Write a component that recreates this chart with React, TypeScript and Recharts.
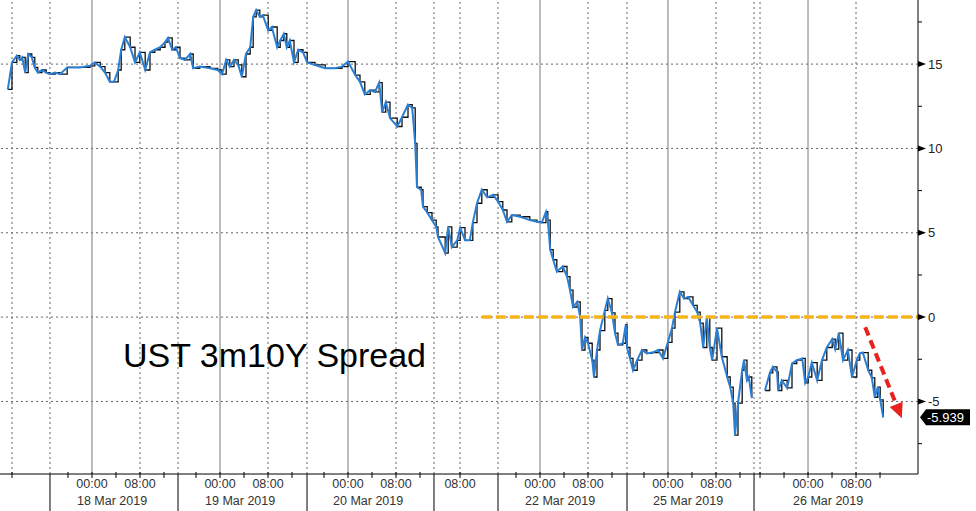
import { ComposedChart, Line, XAxis, YAxis, ReferenceLine } from 'recharts';

// trading-time axis, in hours from the left edge of the chart
const hours = [
  1.3, 2.0, 2.8, 3.3, 3.7, 4.2, 4.7, 5.3, 5.8, 6.3, 7.0, 7.7, 8.3, 9.2, 10.0, 11.2, 13.3, 15.0, 15.8, 16.7,
  17.5, 18.3, 19.0, 19.7, 20.2, 20.8, 21.7, 22.5, 23.3, 24.2, 25.0, 25.8, 26.7, 27.5, 28.0, 28.7, 29.3, 30.0,
  30.8, 31.7, 32.2, 33.3, 35.0, 36.3, 37.0, 37.7, 38.3, 39.0, 39.7, 40.3, 41.0, 41.7, 42.2, 42.7, 43.3, 43.8,
  44.7, 45.3, 46.2, 46.7, 47.3, 47.8, 48.3, 49.0, 49.7, 50.5, 51.2, 52.5, 54.2, 55.8, 57.0, 58.0, 59.2, 60.0,
  60.8, 61.7, 62.5, 63.2, 63.7, 64.3, 65.0, 66.2, 67.0, 68.0, 68.7, 69.2, 69.5, 70.2, 70.5, 71.2, 72.0, 72.7,
  73.0, 74.2, 74.7, 75.3, 76.2, 76.7, 77.5, 78.3, 78.8, 79.5, 80.3, 81.2, 82.2, 83.0, 83.8, 84.5, 85.3, 86.7,
  88.3, 89.5, 90.3, 91.0, 91.3, 91.7, 92.2, 92.8, 93.8, 94.5, 95.0, 95.5, 96.2, 96.7, 97.0, 97.5, 98.0, 98.7,
  99.0, 99.5, 100.0, 100.8, 101.3, 102.0, 102.5, 103.0, 103.8, 104.3, 104.5, 105.0, 105.5, 106.2, 107.0, 107.8,
  108.7, 109.7, 110.5, 111.3, 112.0, 112.5, 113.3, 114.0, 114.7, 115.5, 116.2, 116.7, 117.2, 117.8, 118.3, 118.7,
  119.5, 120.3, 121.2, 121.7, 122.2, 122.5, 123.0, 123.7, 124.0, 124.5, 124.8, 125.3, 126.0, 127.5, 128.3, 128.8,
  129.5, 129.7, 130.3, 131.2, 132.0, 132.8, 133.7, 134.2, 134.7, 135.3, 136.2, 137.0, 137.8, 138.7, 139.2, 139.8,
  140.5, 141.3, 142.0, 142.8, 143.3, 143.8, 144.7, 145.3, 145.8, 146.3, 146.7, 147.2,
];

const spread: (number | null)[] = [
  13.5, 15.1, 15.5, 15.25, 15.4, 14.5, 15.6, 15.4, 14.8, 14.5, 14.65, 14.5, 14.4, 14.5, 14.4, 14.8, 14.8, 14.9, 15.1, 14.85,
  14.5, 13.95, 13.95, 14.65, 15.85, 16.6, 16.0, 15.1, 15.7, 14.65, 15.7, 15.85, 16.0, 16.3, 16.55, 15.85, 16.0, 15.35,
  15.25, 15.6, 14.75, 14.85, 14.75, 14.65, 14.4, 15.25, 14.85, 15.25, 14.95, 14.25, 15.6, 16.0, 17.8, 18.2, 17.8, 17.9,
  17.0, 17.2, 16.0, 16.4, 16.8, 16.0, 16.4, 15.1, 15.85, 15.7, 15.1, 14.95, 14.75, 14.75, 14.85, 15.15, 14.35, 13.95,
  13.2, 13.45, 13.35, 13.9, 12.15, 12.75, 11.8, 11.3, 11.85, 12.6, 12.4, 10.3, 7.7, 7.55, 6.55, 6.2, 5.75, 5.35,
  4.75, 3.8, 5.35, 4.15, 4.55, 5.3, 4.55, 4.55, 5.6, 6.75, 7.55, 7.1, 7.25, 6.85, 6.35, 5.65, 6.05, 5.95,
  5.75, 5.65, 5.6, 6.25, 5.75, 4.0, 3.4, 2.7, 3.0, 2.4, 1.6, 0.6, 0.9, 0, -1.95, -1.2, -1.55, -2.55,
  -3.55, -1.95, -0.8, 0.4, 1.1, 0.25, -0.95, -1.65, -1.55, -0.45, -1.8, -2.45, -3.15, -2.55, -1.95, -2.15,
  -2.1, -1.95, -2.45, -1.5, -0.65, 0.3, 1.5, 1.1, 1.2, 0.7, 0.3, -0.35, -1.8, 0, -1.8, -2.55,
  -0.65, -2.35, -3.55, -4.15, -5.1, -7.0, -5.1, -3.15, -2.55, -3.75, -3.55, -4.8, null, -4.35, -3.3, -2.95,
  -3.25, -4.35, -3.75, -4.2, -2.75, -2.55, -2.45, -3.9, -3.55, -2.7, -3.75, -2.55, -1.8, -1.3, -1.9, -0.95,
  -2.55, -1.95, -3.55, -2.55, -2.15, -2.1, -3.15, -3.6, -4.75, -4.15, -4.9, -5.939,
];

const midnights = [15.33, 36.67, 58, 90, 111.33, 134.67];
const dayLabels = ['18 Mar 2019', '19 Mar 2019', '20 Mar 2019', '22 Mar 2019', '25 Mar 2019', '26 Mar 2019'];
const eightAms = [23.33, 44.67, 66, 76.67, 98, 119.33, 142.67];
const sessionBreaks = [8.33, 29.67, 51.17, 72.33, 83, 104.5, 125.67];
const extraGrid = [2, 126.67];
const yMajor = [-5, 0, 5, 10, 15];
const yMinor = [-7.5, -2.5, 2.5, 7.5, 12.5, 17.5];
const lastValue = -5.939;
const zeroLineFrom = 80.3;
const arrowFrom = { t: 144.2, v: -0.6 };
const arrowTo = { t: 150.3, v: -6.0 };

const X_MAX = 153;
const data = hours.map((t, i) => ({ t, v: spread[i] }));

const minorX = midnights.flatMap((m) => [m - 4, m + 4, m + 12]);
const xTicks = [...extraGrid, ...sessionBreaks, ...midnights, ...eightAms, ...minorX].sort((a, b) => a - b);
const yTicks = [...yMinor, ...yMajor].sort((a, b) => a - b);

const FONT = '"Liberation Sans", Arial, sans-serif';
const DOTS = '2 3';

function XTick(props: any) {
  const { x, y, payload } = props;
  const t = payload.value;
  const mi = midnights.indexOf(t);
  const isBreak = sessionBreaks.includes(t);
  const is8 = eightAms.includes(t);
  return (
    <g>
      {isBreak ? (
        <line x1={x} x2={x} y1={y} y2={y + 40} stroke="#000" />
      ) : (
        <line x1={x} x2={x} y1={y - 2} y2={y + 4} stroke="#000" />
      )}
      {mi >= 0 && (
        <>
          <text x={x} y={y + 14} textAnchor="middle" fontSize={12.5} fill="#333" fontFamily={FONT}>
            00:00
          </text>
          <text x={x - 15} y={y + 31} textAnchor="start" fontSize={12.5} fill="#333" fontFamily={FONT}>
            {dayLabels[mi]}
          </text>
        </>
      )}
      {is8 && (
        <text x={x} y={y + 14} textAnchor="middle" fontSize={12.5} fill="#333" fontFamily={FONT}>
          08:00
        </text>
      )}
    </g>
  );
}

function YTick(props: any) {
  const { x, y, payload } = props;
  const v = payload.value;
  if (yMajor.includes(v)) {
    return (
      <g>
        <polygon points={`${x},${y - 3} ${x + 8},${y} ${x},${y + 3}`} fill="#000" />
        <text x={x + 10} y={y} dy="0.36em" fontSize={13} fill="#222" fontFamily={FONT}>
          {v}
        </text>
      </g>
    );
  }
  return <line x1={x} x2={x + 4} y1={y} y2={y} stroke="#000" />;
}

function EndTag(props: any) {
  const vb = props.viewBox;
  const x = vb.x + vb.width + 2;
  const y = vb.y;
  return (
    <g>
      <polygon
        points={`${x},${y} ${x + 6},${y - 8} ${x + 50},${y - 8} ${x + 50},${y + 8} ${x + 6},${y + 8}`}
        fill="#000"
      />
      <text x={x + 7} y={y} dy="0.36em" fontSize={13} fill="#fff" fontFamily={FONT}>
        {lastValue.toFixed(3)}
      </text>
    </g>
  );
}

function RedArrow(props: any) {
  const { x1, y1, x2, y2 } = props;
  const ang = Math.atan2(y2 - y1, x2 - x1);
  const c = Math.cos(ang);
  const s = Math.sin(ang);
  const head = 15;
  const hw = 7;
  const bx = x2 - head * c;
  const by = y2 - head * s;
  return (
    <g>
      <line x1={x1} y1={y1} x2={bx} y2={by} stroke="#e8231f" strokeWidth={4} strokeDasharray="9 5" />
      <polygon
        points={`${x2},${y2} ${bx - s * hw},${by + c * hw} ${bx + s * hw},${by - c * hw}`}
        fill="#e8231f"
      />
    </g>
  );
}

export default function App() {
  return (
    <div style={{ position: 'absolute', left: 0, top: 0, width: 976, height: 511, background: '#fff' }}>
      <ComposedChart width={976} height={511} data={data} margin={{ top: 0, right: 0, bottom: 0, left: 0 }}>
        <XAxis
          dataKey="t"
          type="number"
          domain={[0, X_MAX]}
          ticks={xTicks}
          interval={0}
          tick={<XTick />}
          tickLine={false}
          tickSize={0}
          tickMargin={0}
          axisLine={{ stroke: '#000' }}
          height={37}
          allowDataOverflow
        />
        <YAxis
          orientation="right"
          type="number"
          domain={[-9.3, 18.8]}
          ticks={yTicks}
          interval={0}
          tick={<YTick />}
          tickLine={false}
          tickSize={0}
          tickMargin={0}
          axisLine={{ stroke: '#000' }}
          width={58}
          allowDataOverflow
        />
        {yMajor.map((v) => (
          <ReferenceLine key={`h${v}`} y={v} stroke="#666" strokeDasharray={DOTS} />
        ))}
        {[...extraGrid, ...sessionBreaks, ...eightAms].map((t) => (
          <ReferenceLine key={`d${t}`} x={t} stroke="#666" strokeDasharray={DOTS} />
        ))}
        {midnights.map((t) => (
          <ReferenceLine key={`m${t}`} x={t} stroke="#7a7a7a" />
        ))}
        <Line
          type="stepAfter"
          dataKey="v"
          stroke="#111"
          strokeWidth={1.3}
          dot={false}
          activeDot={false}
          isAnimationActive={false}
        />
        <Line
          type="linear"
          dataKey="v"
          stroke="#2a7fd4"
          strokeWidth={2}
          dot={false}
          activeDot={false}
          isAnimationActive={false}
        />
        <ReferenceLine
          segment={[
            { x: zeroLineFrom, y: 0 },
            { x: X_MAX, y: 0 },
          ]}
          stroke="#f4b41a"
          strokeWidth={3.5}
          strokeDasharray="10 4"
        />
        <ReferenceLine
          segment={[
            { x: arrowFrom.t, y: arrowFrom.v },
            { x: arrowTo.t, y: arrowTo.v },
          ]}
          shape={RedArrow}
        />
        <ReferenceLine y={lastValue} stroke="none" label={{ content: EndTag }} />
      </ComposedChart>
      <div
        style={{
          position: 'absolute',
          left: 123,
          top: 338,
          fontFamily: FONT,
          fontSize: 34,
          lineHeight: '34px',
          color: '#000',
          whiteSpace: 'nowrap',
        }}
      >
        UST 3m10Y Spread
      </div>
    </div>
  );
}
